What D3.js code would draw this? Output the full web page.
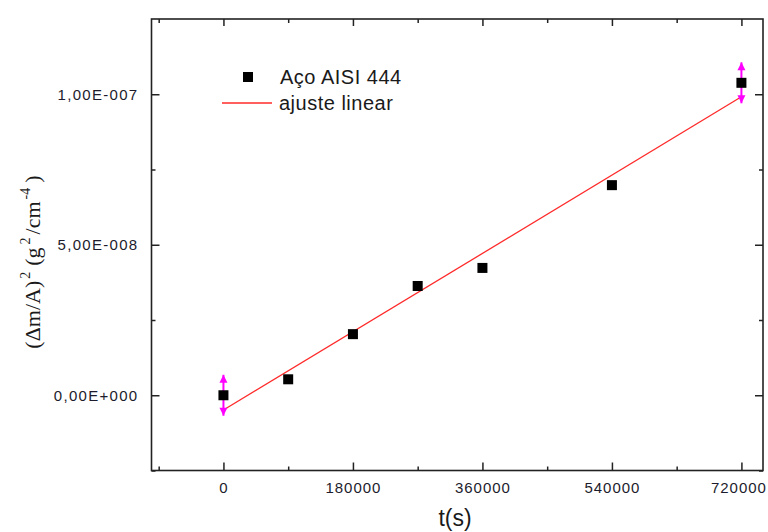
<!DOCTYPE html>
<html>
<head>
<meta charset="utf-8">
<script src="https://cdn.jsdelivr.net/npm/d3@7"></script>
<style>
  html, body { margin: 0; padding: 0; background: #fff; }
  svg { display: block; }
</style>
</head>
<body>
<svg id="chart" width="768" height="532"></svg>
<script>
// Mass gain squared vs. time for AISI 444 steel (parabolic oxidation kinetics)
const times = [0, 90000, 180000, 270000, 360000, 540000, 720000];
const massGainSq = [0, 5.3e-9, 2.03e-8, 3.63e-8, 4.23e-8, 6.98e-8, 1.038e-7];
// Error bars shown only on the first and last points
const errorTimes = [0, 720000];
const errorValues = [0, 1.038e-7];
const errorHalf = [6.8e-9, 6.8e-9];

const xMajorTicks = [0, 180000, 360000, 540000, 720000];
const xTickLabels = ["0", "180000", "360000", "540000", "720000"];
const xMinorTicks = [-90000, 90000, 270000, 450000, 630000];
const yMajorTicks = [0, 5e-8, 1e-7];
const yTickLabels = ["0,00E+000", "5,00E-008", "1,00E-007"];
const yMinorTicks = [-2.5e-8, 2.5e-8, 7.5e-8];

const seriesName = "Aço AISI 444";
const fitName = "ajuste linear";

const svg = d3.select("#chart");
const L = 151.5, R = 763, T = 19, B = 470.5;

const x = d3.scaleLinear().domain([-100000, 750000]).range([L, R]);
const y = d3.scaleLinear().domain([-2.5e-8, 1.25e-7]).range([B, T]);

const sans = "'Liberation Sans', Arial, sans-serif";
const serif = "'Liberation Serif', 'Times New Roman', serif";
const axisColor = "#222";

// Axes: ticks point inward on all four sides
function styleAxis(g) {
  g.select(".domain").remove();
  g.selectAll(".tick line").attr("stroke", axisColor).attr("stroke-width", 1.5);
  g.selectAll(".tick text")
    .attr("fill", "#1c1c2c")
    .style("font-family", sans)
    .style("font-size", "15px")
    .style("letter-spacing", "1.3px");
}

svg.append("g").attr("transform", `translate(0,${B})`)
  .call(d3.axisBottom(x).tickValues(xMajorTicks).tickSize(-8).tickPadding(12)
    .tickFormat((d, i) => xTickLabels[i]))
  .call(styleAxis)
  .selectAll(".tick text")
  .attr("dy", "0.71em")
  .attr("dx", (d, i, nodes) => (i === nodes.length - 1 ? -3 : 0))
  .style("letter-spacing", "1px");
svg.append("g").attr("transform", `translate(0,${B})`)
  .call(d3.axisBottom(x).tickValues(xMinorTicks).tickSize(-4).tickFormat(""))
  .call(styleAxis);
svg.append("g").attr("transform", `translate(0,${T})`)
  .call(d3.axisTop(x).tickValues(xMajorTicks).tickSize(-7).tickFormat(""))
  .call(styleAxis);
svg.append("g").attr("transform", `translate(0,${T})`)
  .call(d3.axisTop(x).tickValues(xMinorTicks).tickSize(-4).tickFormat(""))
  .call(styleAxis);

svg.append("g").attr("transform", `translate(${L},0)`)
  .call(d3.axisLeft(y).tickValues(yMajorTicks).tickSize(-8).tickPadding(13)
    .tickFormat((d, i) => yTickLabels[i]))
  .call(styleAxis);
svg.append("g").attr("transform", `translate(${L},0)`)
  .call(d3.axisLeft(y).tickValues(yMinorTicks).tickSize(-4).tickFormat(""))
  .call(styleAxis);
svg.append("g").attr("transform", `translate(${R},0)`)
  .call(d3.axisRight(y).tickValues(yMajorTicks).tickSize(-8).tickFormat(""))
  .call(styleAxis);
svg.append("g").attr("transform", `translate(${R},0)`)
  .call(d3.axisRight(y).tickValues(yMinorTicks).tickSize(-4).tickFormat(""))
  .call(styleAxis);

// Frame
svg.append("rect")
  .attr("x", L).attr("y", T).attr("width", R - L).attr("height", B - T)
  .attr("fill", "none").attr("stroke", axisColor).attr("stroke-width", 1.6);

// Least-squares linear fit over the data
const n = times.length;
const mx = d3.mean(times), my = d3.mean(massGainSq);
let sxy = 0, sxx = 0;
for (let i = 0; i < n; i++) {
  sxy += (times[i] - mx) * (massGainSq[i] - my);
  sxx += (times[i] - mx) * (times[i] - mx);
}
const slope = sxy / sxx, intercept = my - slope * mx;
const fitX = [times[0], times[n - 1]];

svg.append("line")
  .attr("x1", x(fitX[0])).attr("y1", y(intercept + slope * fitX[0]))
  .attr("x2", x(fitX[1])).attr("y2", y(intercept + slope * fitX[1]))
  .attr("stroke", "#ff2a2a").attr("stroke-width", 1.3);

// Error bars with arrow heads
const eb = svg.append("g");
errorTimes.forEach((t, i) => {
  const cx = x(t), top = y(errorValues[i] + errorHalf[i]), bot = y(errorValues[i] - errorHalf[i]);
  eb.append("line").attr("x1", cx).attr("x2", cx).attr("y1", top).attr("y2", bot)
    .attr("stroke", "#ff00ff").attr("stroke-width", 2);
  eb.append("path").attr("d", `M${cx},${top} L${cx - 4},${top + 8} L${cx + 4},${top + 8} Z`)
    .attr("fill", "#ff00ff");
  eb.append("path").attr("d", `M${cx},${bot} L${cx - 4},${bot - 8} L${cx + 4},${bot - 8} Z`)
    .attr("fill", "#ff00ff");
});

// Data markers
svg.append("g").selectAll("rect").data(times).join("rect")
  .attr("x", (d) => x(d) - 5)
  .attr("y", (d, i) => y(massGainSq[i]) - 5)
  .attr("width", 10).attr("height", 10)
  .attr("fill", "#000");

// Legend
svg.append("rect").attr("x", 243).attr("y", 72).attr("width", 10).attr("height", 10).attr("fill", "#000");
svg.append("text").attr("x", 280).attr("y", 84)
  .style("font-family", sans).style("font-size", "20px").style("letter-spacing", "0.5px")
  .attr("fill", "#1a1a1a").text(seriesName);
svg.append("line").attr("x1", 222).attr("x2", 272).attr("y1", 103).attr("y2", 103)
  .attr("stroke", "#ff2a2a").attr("stroke-width", 1.3);
svg.append("text").attr("x", 279).attr("y", 110)
  .style("font-family", sans).style("font-size", "20px").style("letter-spacing", "0.5px")
  .attr("fill", "#1a1a1a").text(fitName);

// Axis titles
svg.append("text").attr("x", 455).attr("y", 526).attr("text-anchor", "middle")
  .style("font-family", sans).style("font-size", "23px").attr("fill", "#1a1a1a")
  .text("t(s)");

const yl = svg.append("text")
  .attr("transform", "translate(40,262) rotate(-90)")
  .attr("text-anchor", "middle")
  .style("font-family", serif).style("font-size", "22px").attr("fill", "#1a1a1a");
yl.append("tspan").text("(Δm/A)");
yl.append("tspan").attr("dy", -10).attr("dx", 2).style("font-size", "14px").text("2");
yl.append("tspan").attr("dy", 10).attr("dx", 6).text("(g");
yl.append("tspan").attr("dy", -10).attr("dx", 3).style("font-size", "14px").text("2");
yl.append("tspan").attr("dy", 10).attr("dx", 3).text("/cm");
yl.append("tspan").attr("dy", -10).attr("dx", 2).style("font-size", "14px").text("-4");
yl.append("tspan").attr("dy", 10).attr("dx", 5).text(")");
</script>
</body>
</html>
